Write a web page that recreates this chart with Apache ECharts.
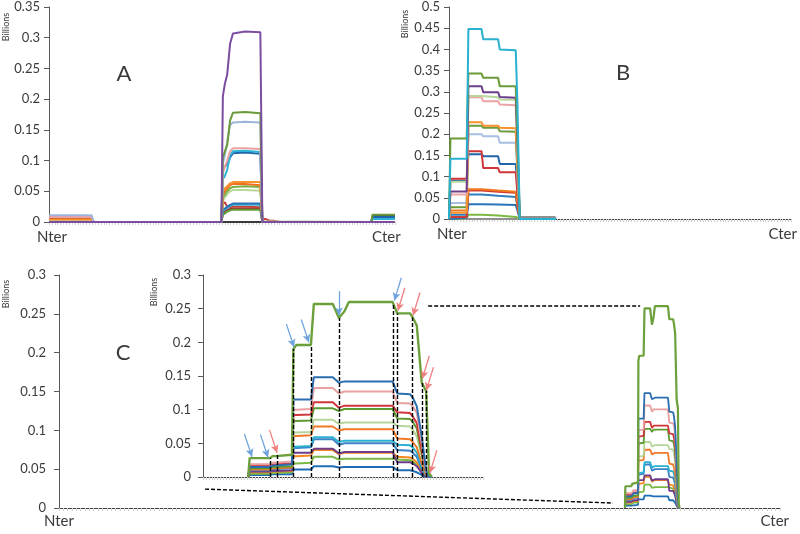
<!DOCTYPE html>
<html><head><meta charset="utf-8">
<script src="https://cdn.jsdelivr.net/npm/echarts@6/dist/echarts.min.js"></script>
<style>html,body{margin:0;padding:0;background:#fff}#c{width:800px;height:534px}</style>
</head><body><div id="c"></div>
<script>
// ================= Panel A (residue positions 0..120) =================
const aMax = 120;
const aX = [0, 14.8, 15.5, 59.8, 60.3, 61.0, 61.8, 62.8, 63.8, 68, 73.3, 74.0, 75.0, 76.5, 78, 80, 90, 111.8, 112.2, 120];
const aPurple    = [0,0,0,0,.205,.225,.24,.29,.307,.31,.309,0,0,0,0,0,0,0,0,0];
const aGreen     = [0,0,0,0,.105,.115,.125,.165,.178,.179,.177,0,0,0,0,0,0,0,.012,.012];
const aLightBlue = [.011,.011,0,0,.095,.11,.13,.158,.162,.163,.162,0,0,0,0,0,0,0,0,0];
const aPink      = [.008,.008,0,0,.08,.09,.1,.115,.12,.12,.119,0,0,0,0,0,0,0,0,0];
const aCyan      = [0,0,0,0,.07,.075,.085,.108,.115,.116,.114,0,0,0,0,0,0,0,.005,.005];
const aBlue      = [0,0,0,0,.085,.09,.095,.105,.112,.113,.111,0,0,0,0,0,0,0,.008,.008];
const aOrange    = [.004,.004,0,0,.05,.055,.058,.063,.065,.065,.065,0,0,0,0,0,0,0,0,0];
const aOrange2   = [0,0,0,0,.045,.05,.055,.06,.062,.062,.06,0,0,0,0,0,0,0,0,0];
const aGreen2    = [0,0,0,0,.04,.045,.05,.055,.057,.058,.057,0,0,0,0,0,0,0,0,0];
const aLightGrn  = [.002,.002,0,0,.035,.04,.045,.05,.052,.052,.051,.001,.001,.001,.001,.001,.001,0,0,0];
const aBlue2     = [0,0,0,0,.02,.022,.025,.028,.03,.03,.03,0,0,0,0,0,0,0,0,0];
const aCyan2     = [0,0,0,0,.018,.02,.023,.026,.028,.028,.028,0,0,0,0,0,0,0,0,0];
const aRed       = [.006,.006,0,0,.03,.032,.025,.024,.025,.025,.024,.005,.005,.002,.002,0,0,0,0,0];
const aDarkRed   = [0,0,0,0,.015,.018,.02,.021,.022,.022,.021,0,0,0,0,0,0,0,0,0];
const aGreen3    = [0,0,0,0,.012,.014,.017,.019,.02,.02,.02,0,0,0,0,0,0,0,0,0];
const aGray      = [0,0,0,0,0,0,0,0,0,0,0,0,0,0,0,0,0,0,.01,.01];

// ================= Panel B (residue positions 0..120) =================
const bMax = 120;
const bX = [0, 0.5, 6.2, 6.8, 11.4, 12.0, 17.2, 17.8, 23.4, 24.0, 24.8, 37, 37.5];
const bCyan      = [0,.142,.142,.448,.448,.424,.424,.400,.398,.27,0,0,0];
const bGreen     = [0,.19,.19,.343,.343,.333,.333,.313,.313,.2,0,0,0];
const bPurple    = [0,.065,.065,.313,.313,.299,.299,.288,.286,.18,0,0,0];
const bLightGrn  = [0,.088,.088,.29,.29,.287,.287,.282,.281,.17,0,0,0];
const bPink      = [0,.058,.058,.287,.287,.278,.278,.27,.268,.16,0,0,0];
const bOrange    = [0,.015,.015,.228,.228,.22,.22,.215,.214,.12,0,0,0];
const bGreen2    = [0,.028,.028,.22,.22,.215,.215,.207,.206,.12,0,0,0];
const bLightBlue = [0,.038,.038,.2,.2,.195,.195,.18,.18,.1,0,0,0];
const bRed       = [0,.095,.095,.16,.16,.12,.12,.11,.11,.06,0,0,0];
const bBlue      = [0,.09,.09,.153,.153,.148,.148,.13,.13,.07,0,0,0];
const bOrange2   = [0,.02,.02,.07,.07,.067,.067,.065,.064,.035,0,0,0];
const bRed2      = [0,.005,.005,.067,.067,.064,.064,.062,.062,.03,0,0,0];
const bBlue2     = [0,.01,.01,.058,.058,.055,.055,.052,.052,.03,0,0,0];
const bBlue3     = [0,.003,.003,.035,.035,.034,.034,.033,.033,.02,0,0,0];
const bGreen3    = [0,.002,.002,.01,.01,.008,.008,.005,.005,.003,0,0,0];
const bGray      = [0,0,0,0,0,0,0,0,0,0,.005,.005,0];

// ================= Panel C (protein 0..830, inset window 636..732) =================
const cMax = 830;
const cOff = 636;          // first residue of the zoomed window
const cInsetLen = 96;
const cX = [15.5,16,23,23.8,25,25.5,30.5,31,32,37,38,44.5,46.6,48.5,50,65,65.3,66.6,71,71.9,73.3,75,76.5,77.5,78.5];
const cGreen     = [0,.028,.028,.031,.031,.033,.033,.19,.196,.196,.257,.257,.236,.246,.26,.26,.258,.243,.243,.237,.225,.14,.128,.005,0];
const cBlue      = [0,.015,.015,.017,.017,.019,.019,.115,.115,.115,.148,.148,.14,.142,.142,.142,.14,.124,.123,.118,.105,.06,.01,0,0];
const cPink      = [0,.019,.019,.021,.021,.023,.023,.1,.1,.101,.132,.132,.124,.127,.127,.127,.125,.11,.109,.105,.095,.05,.008,0,0];
const cRed       = [0,.017,.017,.019,.019,.02,.02,.092,.092,.093,.111,.111,.103,.106,.106,.106,.104,.096,.095,.09,.08,.04,.006,0,0];
const cGreenB    = [0,.013,.013,.015,.015,.016,.016,.083,.083,.084,.102,.102,.098,.101,.101,.101,.1,.087,.086,.082,.072,.035,.005,0,0];
const cLightGrn  = [0,.016,.016,.018,.018,.019,.019,.066,.066,.067,.085,.085,.079,.081,.081,.081,.08,.076,.075,.07,.06,.03,.004,0,0];
const cOrange    = [0,.011,.011,.013,.013,.014,.014,.061,.061,.062,.075,.075,.069,.071,.071,.071,.069,.057,.056,.052,.044,.02,.003,0,0];
const cCyan      = [0,.012,.012,.014,.014,.015,.015,.045,.045,.046,.059,.059,.052,.054,.054,.054,.053,.048,.047,.044,.036,.015,.002,0,0];
const cBlue2     = [0,.010,.010,.012,.012,.013,.013,.043,.043,.044,.056,.056,.048,.05,.05,.05,.049,.04,.039,.036,.03,.012,.002,0,0];
const cPurple    = [0,.008,.008,.009,.009,.010,.010,.036,.036,.036,.042,.042,.035,.037,.037,.037,.036,.022,.022,.02,.016,.006,0,0,0];
const cOrange2   = [0,.007,.007,.008,.008,.009,.009,.031,.031,.032,.04,.04,.034,.036,.036,.036,.035,.03,.029,.027,.022,.01,.001,0,0];
const cGreen2    = [0,.005,.005,.006,.006,.007,.007,.02,.02,.021,.03,.03,.026,.027,.027,.027,.027,.026,.025,.023,.018,.008,.001,0,0];
const cBlue3     = [0,.003,.003,.004,.004,.004,.004,.011,.011,.011,.016,.016,.014,.015,.015,.015,.015,.01,.01,.009,.007,.003,0,0,0];

// cleavage sites (dashed lines) and arrows in the inset, in window residue units
const cutSites = [23, 25.5, 31, 37, 46.6, 65.3, 66.6, 71.9, 75, 76.5];
const arrowTips = [[16.8,.030,'se','b'],[22.3,.029,'se','b'],[25.4,.036,'se','r'],[31.2,.193,'se','b'],[36.3,.2,'se','b'],
                   [46.6,.24,'s','b'],[65.6,.262,'sw','b'],[66.8,.247,'sw','r'],[72.0,.24,'sw','r'],[75.2,.146,'sw','r'],[76.6,.129,'sw','r'],[77.8,.006,'sw','r']];

const FONT = 'Lato, "Open Sans", sans-serif';
const AX = '#595959';
const TXT = '#3a3a3a';

function mk(xs, ys, color, idx, w) {
  return {type:'line', xAxisIndex:idx, yAxisIndex:idx, data: xs.map((x,i)=>[x, ys[i]]),
    showSymbol:false, symbol:'none', lineStyle:{color, width:w||2}, itemStyle:{color},
    animation:false, silent:true, z:2};
}
function yAx(idx, max, margin) {
  return {type:'value', gridIndex:idx, min:0, max, interval:0.05,
    axisLine:{show:true, lineStyle:{color:AX, width:1}},
    axisTick:{show:true, length:5, lineStyle:{color:AX}},
    splitLine:{show:false},
    axisLabel:{fontFamily:FONT, fontSize:13, color:TXT, margin}};
}
function xAx(idx, min, max, interval, labels, margin) {
  const o = {type:'value', gridIndex:idx, min, max, interval,
    axisLine:{show:true, onZero:false, lineStyle:{color:'#404040', width:1.2}},
    axisTick:{show:true, length:3, lineStyle:{color:'#d2d2d2'}},
    splitLine:{show:false}, minorTick:{show:false}};
  if (labels) {
    o.axisLabel = {show:true, customValues: labels.map(l=>l[0]),
      formatter: v => { const f = labels.find(l => Math.abs(l[0]-v) < 1e-6); return f ? f[1] : ''; },
      fontFamily:FONT, fontSize:15, color:TXT, margin};
  } else o.axisLabel = {show:false};
  return o;
}

const aDefs = [['#3a3a3a',aGray],['#A03030',aDarkRed],['#5E9E30',aGreen3],['#C8403A',aRed],['#3AAFCF',aCyan2],['#2A72B8',aBlue2],
  ['#B8D89A',aLightGrn],['#7BAF45',aGreen2],['#F07020',aOrange2],['#F7922E',aOrange],['#2266AA',aBlue],['#2DB3D6',aCyan],
  ['#EBA3A3',aPink],['#9DB5DB',aLightBlue],['#6A9A3A',aGreen],['#7B4DA0',aPurple]];
const bDefs = [['#909090',bGray],['#7CB844',bGreen3],['#2A72B8',bBlue3],['#2F7FC0',bBlue2],['#D03A35',bRed2],['#F07A20',bOrange2],
  ['#2266AA',bBlue],['#D0353A',bRed],['#A8BEE0',bLightBlue],['#6A9A3A',bGreen2],['#F7922E',bOrange],['#EBA3A3',bPink],
  ['#B8D89A',bLightGrn],['#6D3C8A',bPurple],['#6A9A3A',bGreen],['#2AB0D0',bCyan]];
const cDefs = [['#1F6EB5',cBlue3],['#7CB844',cGreen2],['#F5891F',cOrange2],['#6D3C8A',cPurple],['#3D82C8',cBlue2],['#2AB0D0',cCyan],
  ['#F07A28',cOrange],['#B5D59A',cLightGrn],['#5E9A32',cGreenB],['#D0353A',cRed],['#E8A0A0',cPink],['#2A6EB0',cBlue],['#6BA03A',cGreen]];

const series = [];
aDefs.forEach(d => series.push(mk(aX, d[1], d[0], 0)));
bDefs.forEach(d => series.push(mk(bX, d[1], d[0], 1)));
const cXabs = cX.map(r => cOff + r);
cDefs.forEach(d => series.push(mk(cXabs, d[1], d[0], 2, d[1]===cGreen?2.2:1.8)));
cDefs.forEach(d => series.push(mk(cXabs, d[1], d[0], 3, d[1]===cGreen?2.4:2)));

function interp(xs, ys, x) {
  for (let i = 0; i < xs.length-1; i++) {
    if (x >= xs[i] && x <= xs[i+1]) return ys[i] + (ys[i+1]-ys[i])*(x-xs[i])/(xs[i+1]-xs[i]);
  }
  return 0;
}
const cutLines = cutSites.map(r => [{coord:[cOff+r, 0]}, {coord:[cOff+r, interp(cX, cGreen, r)]}]);
const off = {se:[-2.6,.034], s:[0,.036], sw:[2.4,.034]};
const arrows = arrowTips.map(a => [
  {coord:[cOff+a[0]+off[a[2]][0], a[1]+off[a[2]][1]], lineStyle:{color: a[3]==='b'?'#6FA3DD':'#F08080', width:1.3, type:'solid'}},
  {coord:[cOff+a[0], a[1]]}]);

series.push({type:'line', xAxisIndex:3, yAxisIndex:3, data:[], z:5, silent:true, animation:false,
  markLine:{silent:true, animation:false, symbol:['none','none'], label:{show:false},
    lineStyle:{color:'#000', type:[4,2], width:1.4}, data: cutLines}});
series.push({type:'line', xAxisIndex:3, yAxisIndex:3, data:[], z:6, silent:true, animation:false,
  markLine:{silent:true, animation:false, symbol:['none','arrow'], symbolSize:[6,8], label:{show:false}, data: arrows}});

const chart = echarts.init(document.getElementById('c'), null, {renderer:'canvas'});
chart.setOption({
  backgroundColor:'#fff',
  animation:false,
  grid:[
    {left:49, top:7, width:346, height:215},
    {left:449, top:7, width:344, height:212},
    {left:59, top:275, width:721, height:233},
    {left:203, top:275, width:280, height:202}
  ],
  xAxis:[
    xAx(0, 0, aMax, 1, [[1,'Nter'],[aMax-3,'Cter']], 8),
    xAx(1, 0, bMax, 1, [[1,'Nter'],[bMax-3,'Cter']], 8),
    xAx(2, 0, cMax, 5, [[0,'Nter'],[cMax-6,'Cter']], 6),
    xAx(3, cOff, cOff+cInsetLen, 1, null, 0)
  ],
  yAxis:[ yAx(0, 0.35, 9), yAx(1, 0.5, 9), yAx(2, 0.3, 13), yAx(3, 0.3, 12) ],
  series
});

// connectors between the inset and the main panel C, placed through the axes
const p1 = chart.convertToPixel({gridIndex:3}, [cOff+77.2, 0.254]);
const p2 = chart.convertToPixel({gridIndex:2}, [cOff+33, 0.26]);
const p3 = chart.convertToPixel({gridIndex:3}, [cOff+0.7, -0.018]);
const p4 = chart.convertToPixel({gridIndex:2}, [cOff+1.8, 0.0064]);
const dash = {stroke:'#000', lineWidth:1.4, lineDash:[4,2]};
const lab = (t,x,y,size,rot) => ({type:'text', x, y, rotation: rot||0, silent:true,
  style:{text:t, font: size+'px '+FONT, fill:TXT, align:'center', verticalAlign:'middle'}});
chart.setOption({graphic:[
  {type:'line', silent:true, shape:{x1:p1[0], y1:p1[1], x2:p2[0], y2:p2[1]}, style:dash, z:10},
  {type:'line', silent:true, shape:{x1:p3[0], y1:p3[1], x2:p4[0], y2:p4[1]}, style:dash, z:10},
  lab('A',124,74,22), lab('B',623,73,22), lab('C',123,353,22),
  lab('Billions',6,27,9,Math.PI/2), lab('Billions',405,24,9,Math.PI/2),
  lab('Billions',6,294,9,Math.PI/2), lab('Billions',154,292,9,Math.PI/2)
]});
</script></body></html>
